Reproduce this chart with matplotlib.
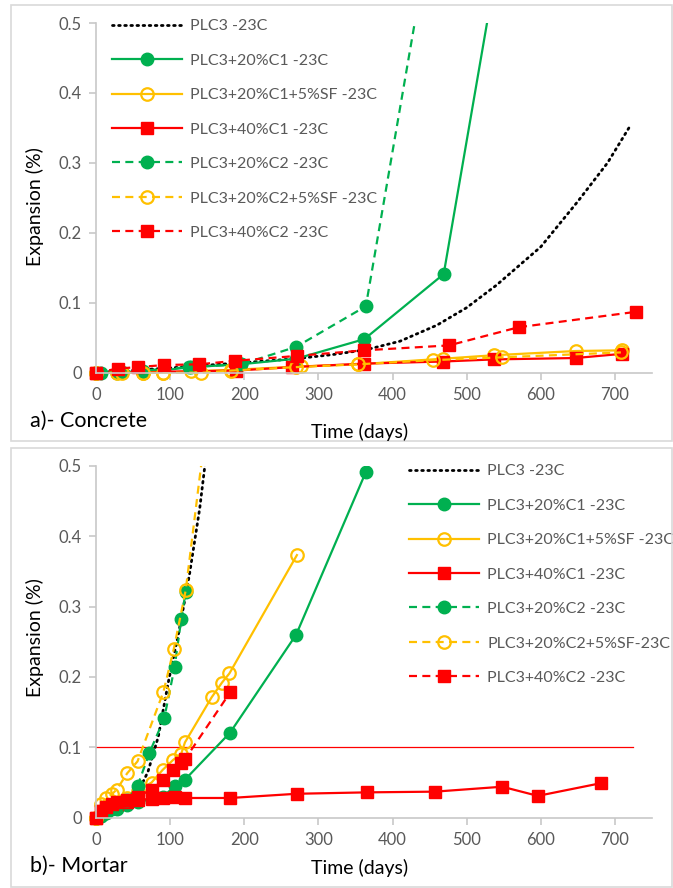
import matplotlib
matplotlib.use("Agg")
import matplotlib.pyplot as plt
from matplotlib.patches import Rectangle

plt.rcParams['font.family'] = ['Lato', 'DejaVu Sans']

# ---------------- data: a) concrete ----------------
c_plc3_x = [0, 28, 56, 90, 140, 180, 270, 320, 365, 410, 460, 500, 540, 600, 650, 690, 720]
c_plc3_y = [0, 0.002, 0.004, 0.006, 0.010, 0.013, 0.020, 0.026, 0.033, 0.045, 0.068, 0.093, 0.125, 0.18, 0.245, 0.30, 0.352]

c_g1_x = [0, 28, 63, 128, 195, 270, 362, 469, 560]
c_g1_y = [0, 0.0, 0.0, 0.008, 0.012, 0.020, 0.048, 0.141, 0.70]

c_y1_x = [0, 28, 63, 90, 128, 182, 277, 354, 468, 537, 647, 710]
c_y1_y = [0, 0, 0, 0, 0.002, 0.004, 0.009, 0.012, 0.020, 0.025, 0.031, 0.032]

c_r1_x = [0, 189, 264, 362, 468, 537, 647, 710]
c_r1_y = [0, 0.003, 0.008, 0.013, 0.016, 0.019, 0.021, 0.027]

c_g2_x = [0, 7, 35, 63, 125, 196, 270, 364, 460]
c_g2_y = [0, 0, 0.001, 0.003, 0.008, 0.012, 0.037, 0.095, 0.685]

c_y2_x = [0, 35, 63, 91, 142, 182, 270, 354, 455, 548, 708]
c_y2_y = [0, 0, 0, 0, 0, 0.003, 0.008, 0.012, 0.018, 0.022, 0.029]

c_r2_x = [0, 30, 57, 92, 139, 188, 271, 362, 476, 570, 728]
c_r2_y = [0, 0.006, 0.008, 0.011, 0.012, 0.017, 0.024, 0.032, 0.039, 0.065, 0.087]

# ---------------- data: b) mortar ----------------
m_plc3_x = [0, 14, 28, 42, 56, 70, 84, 98, 112, 126, 140, 148]
m_plc3_y = [0, 0.006, 0.012, 0.022, 0.035, 0.065, 0.115, 0.195, 0.265, 0.345, 0.44, 0.51]

m_g1_x = [0, 7, 14, 28, 42, 56, 91, 106, 120, 181, 270, 364, 455]
m_g1_y = [0, 0.002, 0.006, 0.012, 0.018, 0.022, 0.030, 0.045, 0.054, 0.121, 0.260, 0.491, 0.72]

m_y1_x = [0, 7, 14, 28, 42, 56, 75, 90, 104, 115, 120, 156, 170, 180, 271]
m_y1_y = [0, 0.005, 0.010, 0.018, 0.028, 0.038, 0.050, 0.068, 0.082, 0.091, 0.107, 0.171, 0.192, 0.205, 0.373]

m_r1_x = [0, 7, 14, 21, 28, 42, 56, 75, 91, 106, 120, 181, 271, 366, 457, 548, 596, 681]
m_r1_y = [0, 0.010, 0.015, 0.018, 0.020, 0.022, 0.025, 0.027, 0.028, 0.029, 0.028, 0.028, 0.034, 0.036, 0.037, 0.044, 0.031, 0.049]

m_g2_x = [0, 7, 14, 21, 28, 42, 56, 72, 92, 106, 115, 121]
m_g2_y = [0, 0.003, 0.007, 0.012, 0.016, 0.025, 0.045, 0.092, 0.141, 0.214, 0.282, 0.321]

m_y2_x = [0, 7, 14, 21, 28, 42, 56, 91, 105, 121, 150]
m_y2_y = [0, 0.020, 0.028, 0.033, 0.040, 0.063, 0.080, 0.179, 0.240, 0.323, 0.57]

m_r2_x = [0, 7, 14, 21, 28, 42, 56, 75, 91, 104, 115, 120, 181]
m_r2_y = [0, 0.010, 0.015, 0.020, 0.022, 0.025, 0.030, 0.040, 0.054, 0.068, 0.077, 0.083, 0.178]

limit_x = [0, 725]
limit_y = [0.1, 0.1]

labels_a = ["PLC3 -23C", "PLC3+20%C1 -23C", "PLC3+20%C1+5%SF -23C", "PLC3+40%C1 -23C",
            "PLC3+20%C2 -23C", "PLC3+20%C2+5%SF -23C", "PLC3+40%C2 -23C"]
labels_b = ["PLC3 -23C", "PLC3+20%C1 -23C", "PLC3+20%C1+5%SF -23C", "PLC3+40%C1 -23C",
            "PLC3+20%C2 -23C", "PLC3+20%C2+5%SF-23C", "PLC3+40%C2 -23C"]

yticks = [0, 0.1, 0.2, 0.3, 0.4, 0.5]
ytick_labels = ["0", "0.1", "0.2", "0.3", "0.4", "0.5"]
xticks = [0, 100, 200, 300, 400, 500, 600, 700]

GREEN = "#00B050"
YELLOW = "#FFC000"
RED = "#FF0000"
GRAY_TXT = "#595959"
AXIS_GRAY = "#C8C8C8"
DASH = (0, (3.6, 2.4))
DOT = (0, (0.6, 1.6))

W, H = 673, 888
fig = plt.figure(figsize=(W / 100, H / 100), dpi=100)

# panel frames
for (x0, y0, x1, y1) in [(11, 5, 672, 441), (11, 448, 672, 887)]:
    fig.patches.append(Rectangle((x0 / W, 1 - y1 / H), (x1 - x0) / W, (y1 - y0) / H,
                                 transform=fig.transFigure, fill=False,
                                 edgecolor="#D9D9D9", linewidth=1.2))


def make_axes(top_px, bot_px):
    ax = fig.add_axes([96 / W, 1 - bot_px / H, (652 - 96) / W, (bot_px - top_px) / H])
    ax.set_xlim(0, 750)
    ax.set_ylim(0, 0.5)
    for s in ["top", "right"]:
        ax.spines[s].set_visible(False)
    for s in ["left", "bottom"]:
        ax.spines[s].set_color(AXIS_GRAY)
        ax.spines[s].set_linewidth(1.2)
    ax.set_yticks(yticks)
    ax.set_yticklabels(ytick_labels)
    ax.set_xticks(xticks)
    ax.tick_params(colors=AXIS_GRAY, labelcolor=GRAY_TXT, labelsize=12, length=5,
                   width=1.2, direction="out", pad=5)
    for lab in ax.get_xticklabels() + ax.get_yticklabels():
        lab.set_color(GRAY_TXT)
    return ax


def style_series(ax, data, labels):
    handles = []
    clip = Rectangle((-25, -0.03), 800, 0.53, transform=ax.transData)
    styles = [
        dict(color="black", linestyle=DOT, linewidth=2.0, marker=None, dash_capstyle="round"),
        dict(color=GREEN, linestyle="-", linewidth=1.6, marker="o", markersize=9,
             markerfacecolor=GREEN, markeredgecolor=GREEN),
        dict(color=YELLOW, linestyle="-", linewidth=1.6, marker="o", markersize=9,
             markerfacecolor="none", markeredgecolor=YELLOW, markeredgewidth=1.6),
        dict(color=RED, linestyle="-", linewidth=1.6, marker="s", markersize=8.5,
             markerfacecolor=RED, markeredgecolor=RED),
        dict(color=GREEN, linestyle=DASH, linewidth=1.6, marker="o", markersize=9,
             markerfacecolor=GREEN, markeredgecolor=GREEN),
        dict(color=YELLOW, linestyle=DASH, linewidth=1.6, marker="o", markersize=9,
             markerfacecolor="none", markeredgecolor=YELLOW, markeredgewidth=1.6),
        dict(color=RED, linestyle=DASH, linewidth=1.6, marker="s", markersize=8.5,
             markerfacecolor=RED, markeredgecolor=RED),
    ]
    for (x, y), lab, st in zip(data, labels, styles):
        ln, = ax.plot(x, y, label=lab, **st)
        ln.set_clip_path(clip)
        handles.append(ln)
    return handles


def add_legend(ax, handles, x_px, top_px):
    leg = ax.legend(handles=handles, loc="upper left",
                    bbox_to_anchor=(x_px / W, 1 - top_px / H),
                    bbox_transform=fig.transFigure, frameon=False,
                    borderaxespad=0, borderpad=0, fontsize=11.5,
                    handlelength=4.4, handletextpad=0.5, labelspacing=1.27)
    for t in leg.get_texts():
        t.set_color(GRAY_TXT)
    return leg


# ---- a) Concrete
ax1 = make_axes(23, 372.7)
data_a = [(c_plc3_x, c_plc3_y), (c_g1_x, c_g1_y), (c_y1_x, c_y1_y), (c_r1_x, c_r1_y),
          (c_g2_x, c_g2_y), (c_y2_x, c_y2_y), (c_r2_x, c_r2_y)]
h1 = style_series(ax1, data_a, labels_a)
add_legend(ax1, h1, 112, 19)

# ---- b) Mortar
ax2 = make_axes(465.7, 817.7)
data_b = [(m_plc3_x, m_plc3_y), (m_g1_x, m_g1_y), (m_y1_x, m_y1_y), (m_r1_x, m_r1_y),
          (m_g2_x, m_g2_y), (m_y2_x, m_y2_y), (m_r2_x, m_r2_y)]
h2 = style_series(ax2, data_b, labels_b)
ax2.plot(limit_x, limit_y, color=RED, linewidth=0.9, zorder=1)
add_legend(ax2, h2, 409, 464)

# axis titles and panel labels
for yc in [207, 638]:
    fig.text(35 / W, 1 - yc / H, "Expansion (%)", rotation=90, ha="center", va="center",
             fontsize=14, color="black")
fig.text(360 / W, 1 - 432 / H, "Time (days)", ha="center", va="center", fontsize=14, color="black")
fig.text(360 / W, 1 - 868 / H, "Time (days)", ha="center", va="center", fontsize=14, color="black")
fig.text(30 / W, 1 - 421 / H, "a)- Concrete", ha="left", va="center", fontsize=15.5, color="black")
fig.text(30 / W, 1 - 866 / H, "b)- Mortar", ha="left", va="center", fontsize=15.5, color="black")

fig.savefig("out.png", dpi=100)
